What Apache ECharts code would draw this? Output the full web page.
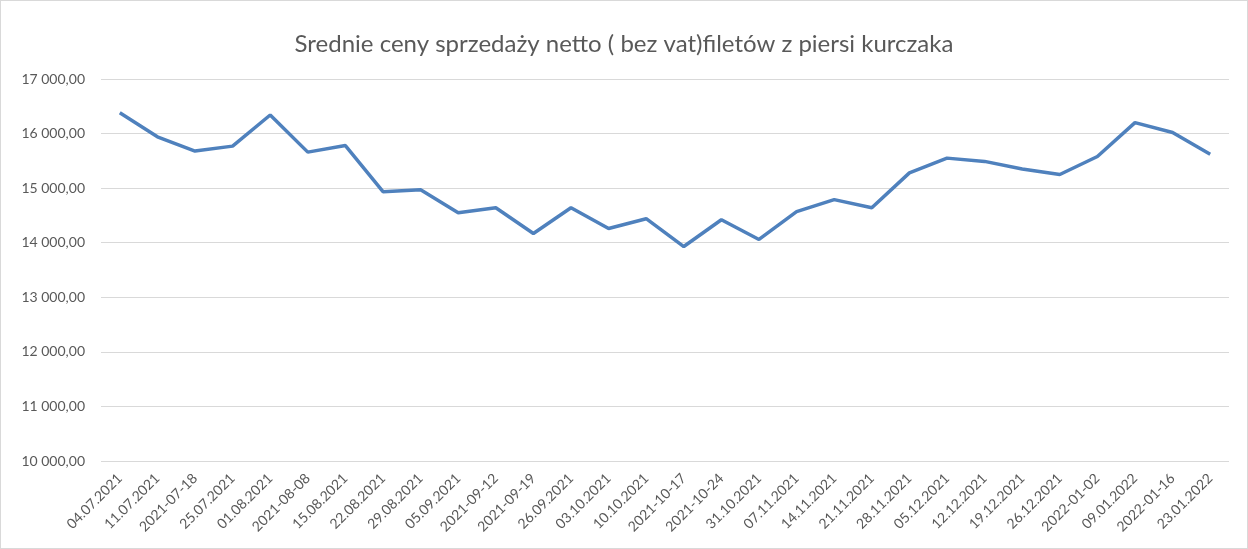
<!DOCTYPE html>
<html>
<head>
<meta charset="utf-8">
<script src="https://cdn.jsdelivr.net/npm/echarts@6/dist/echarts.min.js"></script>
<style>
  html, body { margin: 0; padding: 0; background: #fff; }
  #chart { width: 1246px; height: 547px; border: 1px solid #d9d9d9; }
</style>
</head>
<body>
<div id="chart"></div>
<script>
// ── Data ──────────────────────────────────────────────────────────────────────
const dates = [
  '04.07.2021', '11.07.2021', '2021-07-18', '25.07.2021', '01.08.2021',
  '2021-08-08', '15.08.2021', '22.08.2021', '29.08.2021', '05.09.2021',
  '2021-09-12', '2021-09-19', '26.09.2021', '03.10.2021', '10.10.2021',
  '2021-10-17', '2021-10-24', '31.10.2021', '07.11.2021', '14.11.2021',
  '21.11.2021', '28.11.2021', '05.12.2021', '12.12.2021', '19.12.2021',
  '26.12.2021', '2022-01-02', '09.01.2022', '2022-01-16', '23.01.2022',
];

const prices = [
  16380, 15940, 15680, 15770, 16340,
  15660, 15780, 14935, 14970, 14550,
  14640, 14170, 14640, 14260, 14440,
  13930, 14420, 14060, 14570, 14790,
  14640, 15280, 15550, 15490, 15350,
  15250, 15580, 16200, 16020, 15620,
];

const yMin = 10000;
const yMax = 17000;
const yStep = 1000;

// ── Helpers ───────────────────────────────────────────────────────────────────
function fmtPl(v) {
  const [int, dec] = Number(v).toFixed(2).split('.');
  return int.replace(/\B(?=(\d{3})+(?!\d))/g, ' ') + ',' + dec;
}

const FONT = 'Lato, "Open Sans", sans-serif';
const GREY = '#595959';

const chart = echarts.init(document.getElementById('chart'), null, { renderer: 'canvas' });

chart.setOption({
  backgroundColor: '#fff',
  animation: false,
  title: {
    text: 'Srednie ceny sprzedaży netto ( bez vat)filetów z piersi kurczaka',
    left: 'center',
    top: 26,
    textStyle: { color: GREY, fontSize: 24, fontWeight: 'normal', fontFamily: FONT },
  },
  grid: { left: 100, right: 18, top: 78, bottom: 87, containLabel: false },
  xAxis: {
    type: 'category',
    data: dates,
    boundaryGap: true,
    axisLine: { show: false },
    axisTick: { show: false },
    axisLabel: {
      color: GREY,
      fontSize: 14,
      fontFamily: FONT,
      rotate: 45,
      interval: 0,
      margin: 15,
    },
  },
  yAxis: {
    type: 'value',
    min: yMin,
    max: yMax,
    interval: yStep,
    axisLine: { show: false },
    axisTick: { show: false },
    axisLabel: {
      color: GREY,
      fontSize: 14,
      fontFamily: FONT,
      margin: 16,
      formatter: fmtPl,
    },
    splitLine: { lineStyle: { color: '#d9d9d9', width: 1 } },
  },
  series: [{
    type: 'line',
    data: prices,
    symbol: 'none',
    lineStyle: { color: '#4f81bd', width: 3.5 },
    itemStyle: { color: '#4f81bd' },
  }],
});
</script>
</body>
</html>
